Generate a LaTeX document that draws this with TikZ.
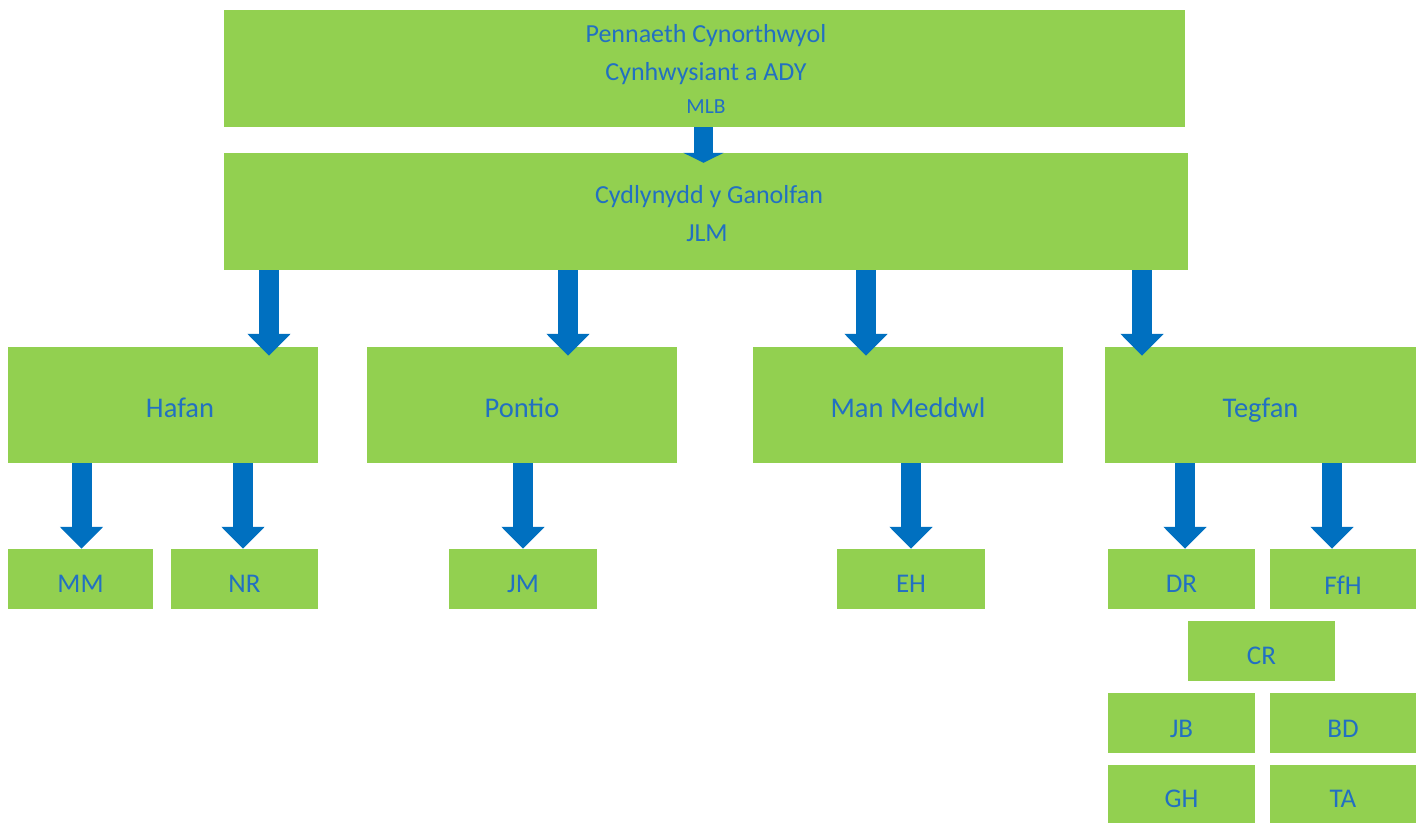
\documentclass[tikz,border=0pt]{standalone}
\usepackage{fontspec}
\setmainfont{Carlito}
\usetikzlibrary{arrows.meta,calc}
\definecolor{boxgreen}{RGB}{146,208,80}
\definecolor{txtblue}{RGB}{34,112,194}
\definecolor{arrblue}{RGB}{0,112,192}
\tikzset{
  bx/.style={fill=boxgreen, draw=none, inner sep=0pt, text=txtblue, align=center,
    font=\fontsize{27}{34}\selectfont, text height=26pt, text depth=0pt},
  bxmid/.style={bx, font=\fontsize{28.5}{34}\selectfont, text height=24pt, text depth=0pt},
  bxplain/.style={fill=boxgreen, draw=none, inner sep=0pt},
  txt/.style={inner sep=0pt, text=txtblue, anchor=base, font=\fontsize{26}{30}\selectfont},
  txtsmall/.style={txt, font=\fontsize{21.5}{26}\selectfont},
  arr/.style={draw=arrblue, line width=20pt, -{Triangle[width=42pt,length=22pt]}},
  toparr/.style={draw=arrblue, line width=19pt, -{Triangle[width=40pt,length=10pt]}}
}
\newcommand\mkbox[7][bx]{%
  \node[#1, minimum width={#5-#3}, minimum height={#6-#4}] (#2) at ({(#3+#5)/2},{(#4+#6)/2}) {#7};}
\begin{document}
\begin{tikzpicture}[x=1pt,y=-1pt]
\useasboundingbox (0,0) rectangle (1424,823);
\mkbox[bxplain]{top}{224}{10}{1185}{127}{}
\node[txt] (topa) at (706,42) {Pennaeth Cynorthwyol};
\node[txt] (topb) at (706,80) {Cynhwysiant a ADY};
\node[txtsmall] (topc) at (706,113) {MLB};
\mkbox[bxplain]{b2}{224}{153}{1188}{270}{}
\node[txt] (b2a) at (709,203) {Cydlynydd y Ganolfan};
\node[txt] (b2b) at (707,241) {JLM};
\mkbox[{bxmid,xshift=0pt}]{hafan}{8}{347}{318}{463}{\hspace*{34pt}Hafan}
\mkbox[bxmid]{pontio}{367}{347}{677}{463}{Pontio}
\mkbox[bxmid]{man}{753}{347}{1063}{463}{Man Meddwl}
\mkbox[bxmid]{tegfan}{1105}{347}{1416}{463}{Tegfan}
\mkbox{mm}{8}{549}{153}{609}{MM}
\mkbox{nr}{171}{549}{318}{609}{NR}
\mkbox{jm}{449}{549}{597}{609}{JM}
\mkbox{eh}{837}{549}{985}{609}{EH}
\mkbox{dr}{1108}{549}{1255}{609}{DR}
\mkbox[{bx,text height=30pt}]{ffh}{1270}{549}{1416}{609}{FfH}
\mkbox{cr}{1188}{621}{1335}{681}{CR}
\mkbox[{bx,text height=28pt}]{jb}{1108}{693}{1255}{753}{JB}
\mkbox[{bx,text height=28pt}]{bd}{1270}{693}{1416}{753}{BD}
\mkbox{gh}{1108}{765}{1255}{823}{GH}
\mkbox{ta}{1270}{765}{1416}{823}{TA}
% arrows
\draw[toparr] (top.south -| 703.5,0) -- ($(b2.north -| 703.5,0)+(0,10)$);
\draw[arr] (b2.south -| 269,0) -- ($(hafan.north -| 269,0)+(0,9)$);
\draw[arr] (b2.south -| 568,0) -- ($(pontio.north -| 568,0)+(0,9)$);
\draw[arr] (b2.south -| 866,0) -- ($(man.north -| 866,0)+(0,9)$);
\draw[arr] (b2.south -| 1142,0) -- ($(tegfan.north -| 1142,0)+(0,9)$);
\draw[arr] (hafan.south -| 81.5,0) -- (mm.north -| 81.5,0);
\draw[arr] (hafan.south -| 243,0) -- (nr.north -| 243,0);
\draw[arr] (pontio.south -| 523,0) -- (jm.north -| 523,0);
\draw[arr] (man.south -| 911,0) -- (eh.north -| 911,0);
\draw[arr] (tegfan.south -| 1185,0) -- (dr.north -| 1185,0);
\draw[arr] (tegfan.south -| 1332,0) -- (ffh.north -| 1332,0);
\end{tikzpicture}
\end{document}
